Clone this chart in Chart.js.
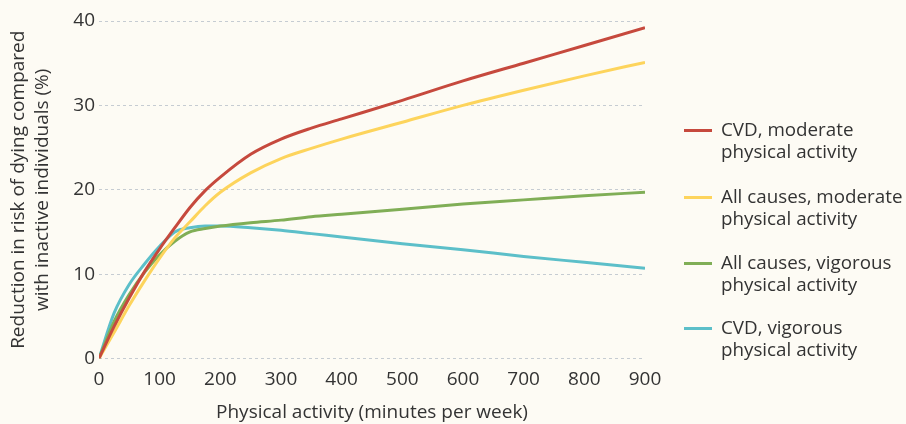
<!DOCTYPE html>
<html>
<head>
<meta charset="utf-8">
<script src="https://cdn.jsdelivr.net/npm/chart.js@4.4.0/dist/chart.umd.min.js"></script>
<style>
  html, body { margin: 0; padding: 0; background: #fdfbf4; }
  #wrap { position: relative; width: 906px; height: 424px; }
  canvas { position: absolute; left: 0; top: 0; }
  #legend { position: absolute; left: 684px; top: 119px; font-family: "Open Sans", sans-serif; font-size: 18.8px; color: #333; }
  .item { position: absolute; left: 0; white-space: nowrap; }
  .swatch { position: absolute; left: 0; width: 28px; height: 3px; }
  .txt { position: absolute; left: 37px; top: -1px; line-height: 22px; }
</style>
</head>
<body>
<div id="wrap">
  <canvas id="c" width="906" height="424"></canvas>
  <div id="legend"></div>
</div>
<script>
const minutes     = [0, 25, 50, 75, 100, 125, 150, 175, 200, 250, 300, 350, 400, 500, 600, 700, 800, 900];
const cvdModerate = [0, 3.8, 7.2, 10.3, 13.0, 15.5, 17.9, 19.9, 21.5, 24.2, 26.0, 27.3, 28.4, 30.6, 32.9, 35.0, 37.1, 39.2];
const allModerate = [0, 3.1, 6.3, 9.2, 11.9, 14.3, 16.2, 18.1, 19.7, 22.0, 23.7, 24.9, 26.0, 28.0, 30.0, 31.8, 33.5, 35.1];
const allVigorous = [0, 4.4, 7.6, 10.2, 12.3, 13.9, 15.0, 15.4, 15.7, 16.1, 16.4, 16.8, 17.1, 17.7, 18.3, 18.8, 19.3, 19.7];
const cvdVigorous = [0, 5.4, 8.8, 11.2, 13.3, 15.0, 15.5, 15.7, 15.7, 15.5, 15.2, 14.8, 14.4, 13.6, 12.9, 12.1, 11.4, 10.7];
const seriesNames = [
  ["CVD, moderate", "physical activity"],
  ["All causes, moderate", "physical activity"],
  ["All causes, vigorous", "physical activity"],
  ["CVD, vigorous", "physical activity"]
];
const xTitle = "Physical activity (minutes per week)";
const yTitle = ["Reduction in risk of dying compared", "with inactive individuals (%)"];
const colors = ["#c6493d", "#fdd45c", "#80ae56", "#5cbfc9"];
const seriesValues = [cvdModerate, allModerate, allVigorous, cvdVigorous];

const font = "'Open Sans', sans-serif";
const datasets = seriesValues.map((vals, i) => ({
  label: seriesNames[i].join(" "),
  data: vals.map((v, j) => ({ x: minutes[j], y: v })),
  borderColor: colors[i],
  backgroundColor: colors[i],
  borderWidth: 3,
  pointRadius: 0,
  cubicInterpolationMode: 'monotone',
  fill: false,
  order: i + 1
}));

const bg = {
  id: 'bg',
  beforeDraw(chart) {
    const ctx = chart.ctx;
    ctx.save();
    ctx.fillStyle = '#fdfbf4';
    ctx.fillRect(0, 0, chart.width, chart.height);
    ctx.restore();
  }
};

new Chart(document.getElementById('c'), {
  type: 'line',
  data: { datasets },
  plugins: [bg],
  options: {
    responsive: false,
    animation: false,
    events: [],
    layout: { padding: { top: 21, right: 261, left: 0, bottom: 0 } },
    plugins: { legend: { display: false }, tooltip: { enabled: false } },
    scales: {
      x: {
        type: 'linear', min: 0, max: 900,
        ticks: { stepSize: 100, color: '#333', font: { family: font, size: 19 }, padding: 10, maxRotation: 0 },
        grid: { display: false, drawTicks: false },
        border: { display: false },
        title: { display: true, text: xTitle, color: '#333', font: { family: font, size: 19 }, padding: { top: 2, bottom: 0 } },
        afterFit(s) { s.height = 65.5; }
      },
      y: {
        min: 0, max: 40,
        ticks: { stepSize: 10, color: '#333', font: { family: font, size: 19 }, padding: 4 },
        grid: { color: '#c6ccd2', lineWidth: 1, drawTicks: false, borderDash: [3, 3] },
        border: { display: false, dash: [3, 3] },
        title: { display: true, text: yTitle, color: '#333', font: { family: font, size: 19, lineHeight: 1.3 }, padding: { top: 6, bottom: 0 } },
        afterFit(s) { s.width = 99; }
      }
    }
  }
});

const legend = document.getElementById('legend');
const tops = [0, 67, 133, 198];
seriesNames.forEach((lines, i) => {
  const item = document.createElement('div');
  item.className = 'item';
  item.style.top = tops[i] + 'px';
  const sw = document.createElement('div');
  sw.className = 'swatch';
  sw.style.background = colors[i];
  sw.style.top = '10px';
  const t = document.createElement('div');
  t.className = 'txt';
  t.innerHTML = lines.join('<br>');
  item.appendChild(sw); item.appendChild(t);
  legend.appendChild(item);
});
</script>
</body>
</html>
